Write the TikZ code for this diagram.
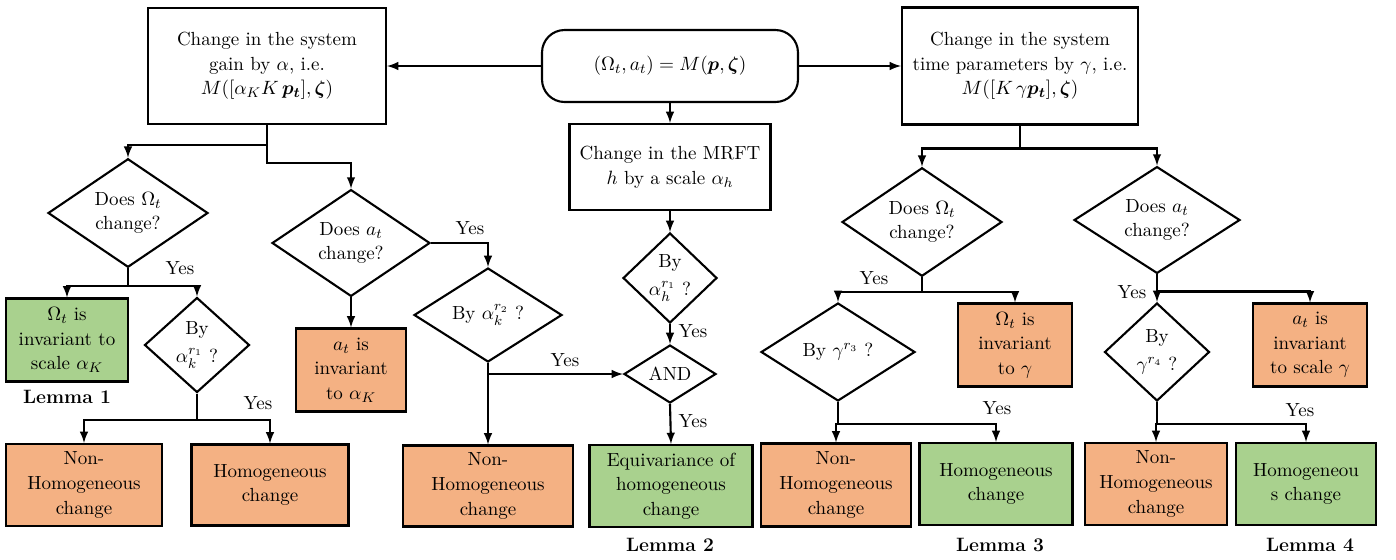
\documentclass[tikz,border=0pt]{standalone}
\usepackage{amsmath}
\usepackage{bm}
\usetikzlibrary{shapes.geometric}

\definecolor{boxorange}{HTML}{F4B183}
\definecolor{boxgreen}{HTML}{A9D18E}

\tikzstyle{box}=[draw,line width=1.2pt,rectangle,align=center,inner sep=1pt,font=\fontsize{10.8}{14}\selectfont]
\tikzstyle{orange box}=[box,fill=boxorange]
\tikzstyle{green box}=[box,fill=boxgreen]
\tikzstyle{decision}=[draw,line width=1.2pt,diamond,align=center,inner sep=0pt,font=\fontsize{10.8}{14}\selectfont]
\tikzstyle{edge}=[draw,line width=1.2pt,->,>=latex]
\tikzstyle{yes}=[font=\fontsize{10.8}{14}\selectfont]
\tikzstyle{lemma}=[font=\fontsize{11}{14}\selectfont\bfseries]

\begin{document}
\begin{tikzpicture}[x=0.02cm,y=-0.02cm]
\useasboundingbox (0,0) rectangle (1396,559);

% top row
\node[box,rounded corners=0.45cm,minimum width=5.12cm,minimum height=1.44cm] (start) at (670,66)
  {$(\Omega_t,a_t)=M(\bm{p},\bm{\zeta})$};
\node[box,minimum width=4.76cm,minimum height=2.32cm] (sysL) at (267,66)
  {Change in the system\\gain by $\alpha$, i.e.\\$M([\alpha_K K\,\bm{p}_{\bm{t}}],\bm{\zeta})$};
\node[box,minimum width=4.72cm,minimum height=2.34cm] (sysR) at (1020,66)
  {Change in the system\\time parameters by $\gamma$, i.e.\\$M([K\,\gamma\bm{p}_{\bm{t}}],\bm{\zeta})$};
\node[box,minimum width=4.02cm,minimum height=1.72cm] (mrft) at (670,167)
  {Change in the MRFT\\$h$ by a scale $\alpha_h$};

% decisions
\node[decision,minimum width=3.2cm,minimum height=1.96cm] (omL) at (128,213) {Does $\Omega_t$\\change?};
\node[decision,minimum width=2.1cm,minimum height=1.9cm] (byK1) at (197,345) {By\\[2pt]$\alpha_k^{r_1}$ ?};
\node[decision,minimum width=3.16cm,minimum height=1.78cm] (atL) at (351,243) {Does $a_t$\\change?};
\node[decision,minimum width=2.96cm,minimum height=1.88cm] (byK2) at (488,315) {By $\alpha_k^{r_2}$ ?};
\node[decision,minimum width=1.88cm,minimum height=1.8cm] (byH) at (670,278) {By\\[2pt]$\alpha_h^{r_1}$ ?};
\node[decision,minimum width=1.84cm,minimum height=1.16cm] (and) at (670,374) {AND};
\node[decision,minimum width=3.2cm,minimum height=2.06cm] (omR) at (922,222) {Does $\Omega_t$\\change?};
\node[decision,minimum width=3.08cm,minimum height=1.96cm] (byG3) at (838,352) {By $\gamma^{r_3}$ ?};
\node[decision,minimum width=3.32cm,minimum height=1.98cm] (atR) at (1157,220) {Does $a_t$\\change?};
\node[decision,minimum width=2.1cm,minimum height=1.96cm] (byG4) at (1157,352) {By\\[2pt]$\gamma^{r_4}$ ?};

% outcomes
\node[green box,minimum width=2.44cm,minimum height=1.66cm] (omK) at (67,340) {$\Omega_t$ is\\invariant to\\scale $\alpha_K$};
\node[orange box,minimum width=3.12cm,minimum height=1.64cm] (nhL) at (84,485) {Non-\\Homogeneous\\change};
\node[orange box,minimum width=3.14cm,minimum height=1.62cm] (hL) at (270,485) {Homogeneous\\change};
\node[orange box,minimum width=2.2cm,minimum height=1.66cm] (atK) at (351,370) {$a_t$ is\\invariant\\to $\alpha_K$};
\node[orange box,minimum width=3.4cm,minimum height=1.62cm] (nhM) at (488,486) {Non-\\Homogeneous\\change};
\node[green box,minimum width=3.26cm,minimum height=1.64cm] (equi) at (671,486) {Equivariance of\\homogeneous\\change};
\node[orange box,minimum width=2.28cm,minimum height=1.66cm] (omG) at (1015,345) {$\Omega_t$ is\\invariant\\to $\gamma$};
\node[orange box,minimum width=3.0cm,minimum height=1.66cm] (nhR3) at (836,485) {Non-\\Homogeneous\\change};
\node[green box,minimum width=3.06cm,minimum height=1.64cm] (hR3) at (996,484) {Homogeneous\\change};
\node[orange box,minimum width=2.28cm,minimum height=1.66cm] (atG) at (1310,345) {$a_t$ is\\invariant\\to scale $\gamma$};
\node[orange box,minimum width=2.84cm,minimum height=1.64cm] (nhR4) at (1156,484) {Non-\\Homogeneous\\change};
\node[green box,minimum width=2.8cm,minimum height=1.64cm] (hR4) at (1306,484) {Homogeneou\\s change};

% labels
\foreach \pos/\name in {{(180,268)/yes1}, {(258,403)/yes2}, {(470,228)/yes3}, {(565,360)/yes4},
                         {(693,331)/yes5}, {(693,421)/yes6}, {(874,278)/yes7}, {(997,408)/yes8},
                         {(1132,292)/yes9}, {(1300,410)/yes10}}{
  \node[yes] (\name) at \pos {Yes};
}
\foreach \pos/\name/\num in {{(67,397)/lem1/1}, {(670,545)/lem2/2}, {(1000,545)/lem3/3}, {(1310,545)/lem4/4}}{
  \node[lemma] (\name) at \pos {Lemma \num};
}

% connectors
\path[edge] (start.west) -- (sysL.east);
\path[edge] (start.east) -- (sysR.west);
\path[edge] (start.south) -- (mrft.north);
\path[edge] (mrft.south) -- (byH.north);
\path[edge] (byH.south) -- (and.north);
\path[edge] (and.south) -- (equi.north);

\path[edge] (sysL.south) -- ++(0,20) -| (omL.north);
\path[edge] (sysL.south) -- ++(0,38) -| (atL.north);
\path[edge] (omL.south) -- ++(0,18) -| (omK.north);
\path[edge] (omL.south) -- ++(0,18) -| (byK1.north);
\path[edge] (byK1.south) -- ++(0,26) -| (nhL.north);
\path[edge] (byK1.south) -- ++(0,26) -| (hL.north);
\path[edge] (atL.south) -- (atK.north);
\path[edge] (atL.east) -| (byK2.north);
\path[edge] (byK2.south) -- (nhM.north);
\path[edge] (byK2.south |- and.west) -- (and.west);

\path[edge] (sysR.south) -- ++(0,23) -| (omR.north);
\path[edge] (sysR.south) -- ++(0,23) -| (atR.north);
\path[edge] (omR.south) -- ++(0,15) -| (byG3.north);
\path[edge] (omR.south) -- ++(0,15) -| (omG.north);
\path[edge] (byG3.south) -- ++(0,22) -| (nhR3.north);
\path[edge] (byG3.south) -- ++(0,22) -| (hR3.north);
\path[edge] (atR.south) -- (byG4.north);
\path[edge] (atR.south) -- ++(0,17) -| (atG.north);
\path[edge] (byG4.south) -- ++(0,22) -| (nhR4.north);
\path[edge] (byG4.south) -- ++(0,22) -| (hR4.north);
\end{tikzpicture}
\end{document}
